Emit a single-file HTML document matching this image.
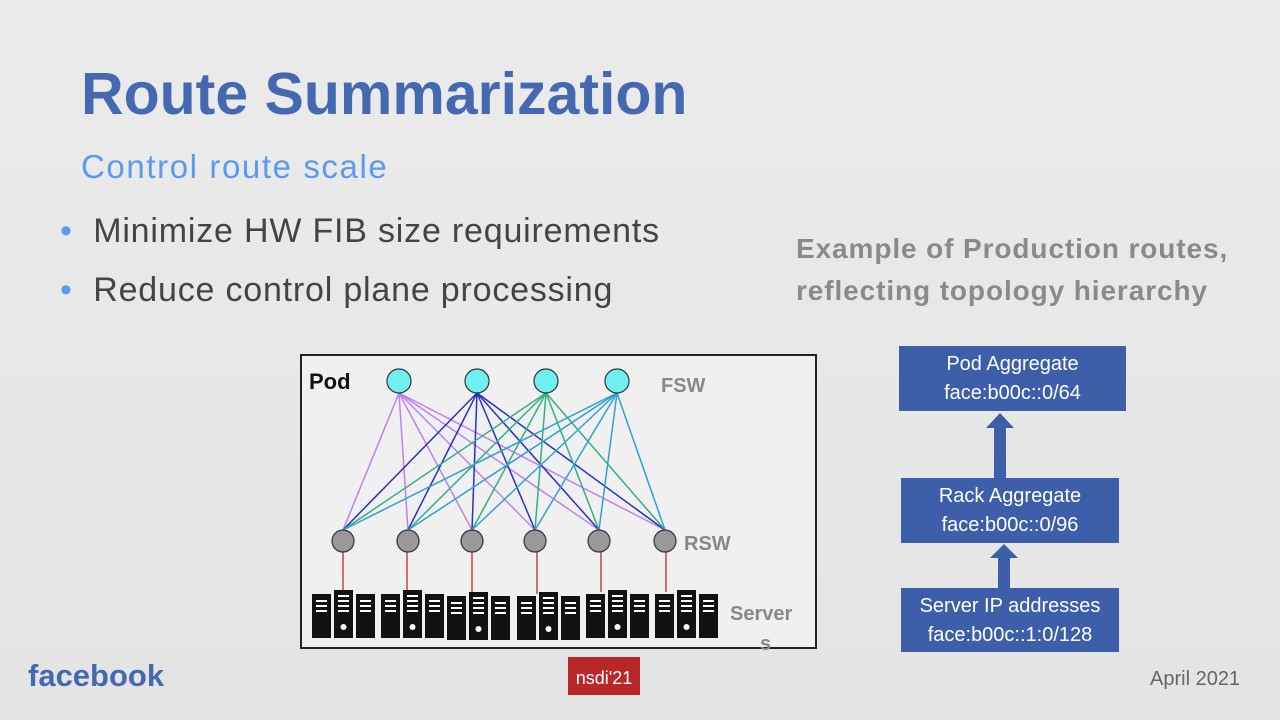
<!DOCTYPE html>
<html><head><meta charset="utf-8"><style>
body{margin:0;width:1280px;height:720px;overflow:hidden;background:linear-gradient(#ebebeb,#e4e4e4);font-family:"Liberation Sans",sans-serif;position:relative}
.a{position:absolute;white-space:nowrap}
.box{position:absolute;background:#3d5ea8;color:#fff;text-align:center;font-size:20px;line-height:29px;padding-top:4px;box-sizing:border-box}
</style></head><body>
<div class="a" style="left:81px;top:60px;font-size:59px;font-weight:bold;color:#4469b0">Route Summarization</div>
<div class="a" style="left:81px;top:148px;font-size:33px;letter-spacing:1.6px;color:#5a9af0">Control route scale</div>
<div class="a" style="left:60px;top:212px;font-size:34px;letter-spacing:0.8px;color:#444"><span style="color:#5a9af0">•</span>&nbsp; Minimize HW FIB size requirements</div>
<div class="a" style="left:60px;top:271px;font-size:34px;letter-spacing:0.8px;color:#444"><span style="color:#5a9af0">•</span>&nbsp; Reduce control plane processing</div>
<div class="a" style="left:796px;top:228px;font-size:28px;letter-spacing:0.9px;font-weight:bold;color:#8a8a8a;line-height:42px">Example of Production routes,<br>reflecting topology hierarchy</div>

<svg class="a" style="left:0;top:0" width="1280" height="720">
<rect x="301" y="355" width="515" height="293" fill="#f0f0f0" stroke="#222" stroke-width="2"/>
<g stroke-width="1.5">
<g stroke="#c080f0"><line x1="399" y1="393" x2="343" y2="530"/><line x1="399" y1="393" x2="408" y2="530"/><line x1="399" y1="393" x2="472" y2="530"/><line x1="399" y1="393" x2="535" y2="530"/><line x1="399" y1="393" x2="599" y2="530"/><line x1="399" y1="393" x2="665" y2="530"/></g>
<g stroke="#2a30c0"><line x1="477" y1="393" x2="343" y2="530"/><line x1="477" y1="393" x2="408" y2="530"/><line x1="477" y1="393" x2="472" y2="530"/><line x1="477" y1="393" x2="535" y2="530"/><line x1="477" y1="393" x2="599" y2="530"/><line x1="477" y1="393" x2="665" y2="530"/></g>
<g stroke="#30b080"><line x1="546" y1="393" x2="343" y2="530"/><line x1="546" y1="393" x2="408" y2="530"/><line x1="546" y1="393" x2="472" y2="530"/><line x1="546" y1="393" x2="535" y2="530"/><line x1="546" y1="393" x2="599" y2="530"/><line x1="546" y1="393" x2="665" y2="530"/></g>
<g stroke="#30a0d0"><line x1="617" y1="393" x2="343" y2="530"/><line x1="617" y1="393" x2="408" y2="530"/><line x1="617" y1="393" x2="472" y2="530"/><line x1="617" y1="393" x2="535" y2="530"/><line x1="617" y1="393" x2="599" y2="530"/><line x1="617" y1="393" x2="665" y2="530"/></g>
</g>
<g stroke="#d04040" stroke-width="1.5"><line x1="343" y1="552" x2="343" y2="592"/><line x1="407" y1="552" x2="407" y2="592"/><line x1="472" y1="552" x2="472" y2="594"/><line x1="537" y1="552" x2="537" y2="594"/><line x1="601" y1="552" x2="601" y2="592"/><line x1="666" y1="552" x2="666" y2="592"/></g>
<g fill="#6ff0f0" stroke="#333" stroke-width="1.2"><circle cx="399" cy="381" r="12"/><circle cx="477" cy="381" r="12"/><circle cx="546" cy="381" r="12"/><circle cx="617" cy="381" r="12"/></g>
<g fill="#999" stroke="#333" stroke-width="1.2"><circle cx="343" cy="541" r="11"/><circle cx="408" cy="541" r="11"/><circle cx="472" cy="541" r="11"/><circle cx="535" cy="541" r="11"/><circle cx="599" cy="541" r="11"/><circle cx="665" cy="541" r="11"/></g>
<defs><g id="rk">
<rect x="0" y="4" width="19" height="44" fill="#111"/><rect x="22" y="0" width="19" height="48" fill="#111"/><rect x="44" y="4" width="19" height="44" fill="#111"/>
<g fill="#fff"><rect x="4" y="10" width="11" height="2"/><rect x="4" y="15" width="11" height="2"/><rect x="4" y="20" width="11" height="2"/><rect x="26" y="5" width="11" height="2"/><rect x="26" y="10" width="11" height="2"/><rect x="26" y="15" width="11" height="2"/><rect x="26" y="20" width="11" height="2"/><rect x="48" y="10" width="11" height="2"/><rect x="48" y="15" width="11" height="2"/><rect x="48" y="20" width="11" height="2"/><circle cx="31.5" cy="37" r="3"/></g>
</g></defs>
<use href="#rk" x="312" y="590"/><use href="#rk" x="381" y="590"/><use href="#rk" x="447" y="592"/><use href="#rk" x="517" y="592"/><use href="#rk" x="586" y="590"/><use href="#rk" x="655" y="590"/>
<text x="309" y="389" font-size="22" font-weight="bold" fill="#111" font-family="Liberation Sans">Pod</text>
<text x="661" y="392" font-size="20" font-weight="bold" fill="#888" font-family="Liberation Sans">FSW</text>
<text x="684" y="550" font-size="20" font-weight="bold" fill="#888" font-family="Liberation Sans">RSW</text>
<text x="730" y="620" font-size="20" font-weight="bold" fill="#888" font-family="Liberation Sans">Server</text>
<text x="760" y="650" font-size="20" font-weight="bold" fill="#888" font-family="Liberation Sans">s</text>
<g fill="#3d5ea8"><rect x="994" y="425" width="12" height="54"/><polygon points="986,428 1000,413 1014,428"/><rect x="998" y="555" width="12" height="34"/><polygon points="990,558 1004,544 1018,558"/></g>
<rect x="568" y="657" width="72" height="38" fill="#b8282a"/>
<text x="604" y="684" font-size="18" fill="#fff" text-anchor="middle" font-family="Liberation Sans">nsdi'21</text>
</svg>
<div class="box" style="left:899px;top:346px;width:227px;height:65px">Pod Aggregate<br>face:b00c::0/64</div>
<div class="box" style="left:901px;top:478px;width:218px;height:65px">Rack Aggregate<br>face:b00c::0/96</div>
<div class="box" style="left:901px;top:588px;width:218px;height:64px">Server IP addresses<br>face:b00c::1:0/128</div>
<div class="a" style="left:28px;top:658px;font-size:31px;font-weight:bold;color:#4469b0">facebook</div>
<div class="a" style="left:1150px;top:668px;font-size:20px;color:#666">April 2021</div>
</body></html>
